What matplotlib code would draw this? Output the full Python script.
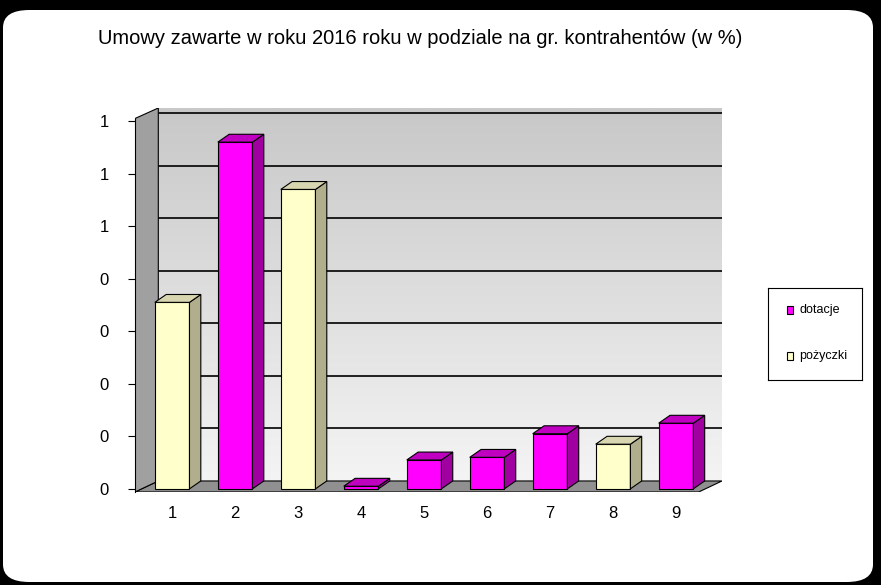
import matplotlib
matplotlib.use("Agg")
import matplotlib.pyplot as plt
import numpy as np
from matplotlib.patches import FancyBboxPatch, Polygon, Rectangle

categories = ["1", "2", "3", "4", "5", "6", "7", "8", "9"]
values = [0.71, 1.32, 1.14, 0.01, 0.11, 0.12, 0.21, 0.17, 0.25]
series = ["pożyczki", "dotacje", "pożyczki", "dotacje", "dotacje", "dotacje", "dotacje", "pożyczki", "dotacje"]
ytick_vals = [0, 0.2, 0.4, 0.6, 0.8, 1.0, 1.2, 1.4]
ytick_labels = ["0", "0", "0", "0", "0", "1", "1", "1"]
title = "Umowy zawarte w roku 2016 roku w podziale na gr. kontrahentów (w %)"

front = {"dotacje": "#FF00FF", "pożyczki": "#FFFFCC"}
side = {"dotacje": "#A000A0", "pożyczki": "#B0AE8C"}
topc = {"dotacje": "#C000C0", "pożyczki": "#D8D6B0"}

W, H = 881, 585
fig = plt.figure(figsize=(W/100, H/100), dpi=100, facecolor="black")
fig.patches.append(FancyBboxPatch((3/W, 3/H), 870/W, 572/H, boxstyle="round,pad=0,rounding_size=0.03",
                                  transform=fig.transFigure, facecolor="white", edgecolor="none", zorder=-5))
fig.text(420/W, 1-38/H, title, ha="center", va="center", fontsize=14.5, family="Liberation Sans")

ax = fig.add_axes([135/W, 1-492/H, (722-135)/W, (492-108)/H])
ax.set_xlim(0.41, 9.73)
ax.set_ylim(-0.012, 1.45)
ax.patch.set_alpha(0)
for s in ax.spines.values():
    s.set_visible(False)

dx, dy = 0.18, 0.03
grad = np.linspace(0, 1, 256).reshape(-1, 1)
ax.imshow(grad, extent=[0.78, 9.73, dy, 1.45], aspect="auto",
          cmap=matplotlib.colors.LinearSegmentedColormap.from_list("g", ["#F4F4F4", "#C8C8C8"]),
          origin="lower", zorder=0)
for yv in ytick_vals[1:]:
    ax.plot([0.78, 9.73], [yv+dy, yv+dy], color="black", lw=1.2, zorder=1)
ax.add_patch(Polygon([[0.41, -0.012], [9.36, -0.012], [9.73, dy], [0.78, dy]], closed=True,
                     facecolor="#909090", edgecolor="black", lw=0.8, zorder=1))
ax.add_patch(Polygon([[0.41, -0.012], [0.78, dy], [0.78, 1.45], [0.41, 1.41]], closed=True,
                     facecolor="#A0A0A0", edgecolor="black", lw=0.8, zorder=1))

x = np.arange(1, len(categories)+1)
w = 0.55
for xi, v, s in zip(x, values, series):
    l = xi - w/2
    ax.bar(xi, v, width=w, bottom=0, color=front[s], edgecolor="black", lw=0.8, zorder=3)
    ax.add_patch(Polygon([[l+w, 0], [l+w+dx, dy], [l+w+dx, v+dy], [l+w, v]], closed=True,
                         facecolor=side[s], edgecolor="black", lw=0.8, zorder=3))
    ax.add_patch(Polygon([[l, v], [l+dx, v+dy], [l+w+dx, v+dy], [l+w, v]], closed=True,
                         facecolor=topc[s], edgecolor="black", lw=0.8, zorder=3))

ax.set_yticks(ytick_vals)
ax.set_yticklabels(ytick_labels, fontsize=12, family="Liberation Sans")
ax.set_xticks(x)
ax.set_xticklabels(categories, fontsize=12, family="Liberation Sans")
ax.tick_params(axis="y", length=5, pad=14)
ax.tick_params(axis="x", length=0, pad=10)
ax.plot([0.41, 0.41], [-0.012, 1.41], color="black", lw=0.8, clip_on=False)

lax = fig.add_axes([768/W, 1-380/H, 94/W, 92/H])
lax.set_xticks([]); lax.set_yticks([])
lax.set_xlim(0, 1); lax.set_ylim(0, 1)
for yy, name in [(0.76, "dotacje"), (0.26, "pożyczki")]:
    lax.add_patch(Rectangle((0.2, yy-0.04), 0.07, 0.08, facecolor=front[name], edgecolor="black", lw=0.8))
    lax.text(0.33, yy, name, va="center", fontsize=9, family="Liberation Sans")

fig.savefig("out.png", dpi=100, facecolor="black")
